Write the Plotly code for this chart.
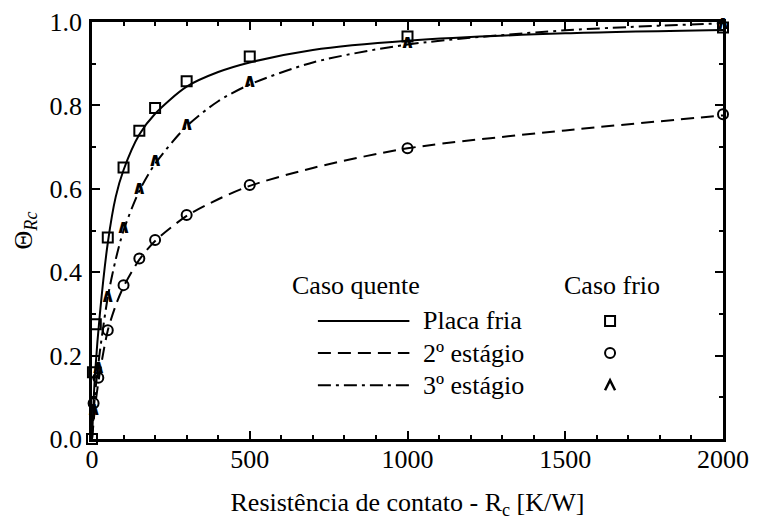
import plotly.graph_objects as go

# Model curves ("Caso quente"): contact resistance [K/W] vs. normalised temperature
rc_curve = [0, 5, 10, 25, 50, 75, 100, 150, 200, 300, 400, 500, 700, 1000, 1500, 2000]
placa_fria_curve = [0, 0.09, 0.16, 0.30, 0.47, 0.58, 0.645, 0.73, 0.78, 0.845, 0.88, 0.903, 0.933, 0.955, 0.973, 0.981]
estagio2_curve = [0, 0.04, 0.08, 0.16, 0.26, 0.32, 0.365, 0.43, 0.475, 0.535, 0.575, 0.607, 0.65, 0.697, 0.74, 0.776]
estagio3_curve = [0, 0.06, 0.11, 0.21, 0.34, 0.43, 0.50, 0.595, 0.66, 0.75, 0.81, 0.85, 0.903, 0.946, 0.98, 0.997]

# Measured points ("Caso frio")
rc_placa = [0, 3, 12, 50, 100, 150, 200, 300, 500, 1000, 2000]
placa_fria_pts = [0, 0.16, 0.275, 0.483, 0.651, 0.739, 0.794, 0.858, 0.917, 0.965, 0.987]
rc_est2 = [5, 20, 50, 100, 150, 200, 300, 500, 1000, 2000]
estagio2_pts = [0.086, 0.147, 0.261, 0.369, 0.433, 0.477, 0.537, 0.609, 0.697, 0.779]
rc_est3 = [5, 20, 50, 100, 150, 200, 300, 500, 1000, 2000]
estagio3_pts = [0.07, 0.17, 0.34, 0.505, 0.60, 0.665, 0.753, 0.855, 0.949, 0.995]

x_ticks = [0, 500, 1000, 1500, 2000]
y_ticks = [0.0, 0.2, 0.4, 0.6, 0.8, 1.0]

legend_curves = ["Placa fria", "2º estágio", "3º estágio"]
dash_styles = ["solid", "13px,7px", "13px,5px,3px,5px"]

SERIF = "Liberation Serif"
FS = 26

fig = go.Figure()

curves = [placa_fria_curve, estagio2_curve, estagio3_curve]
for name, ys, dash in zip(legend_curves, curves, dash_styles):
    fig.add_trace(go.Scatter(
        x=rc_curve, y=ys, mode="lines", name=name,
        line=dict(color="black", width=2, dash=dash, shape="spline", smoothing=0.8),
        cliponaxis=False,
    ))

fig.add_trace(go.Scatter(
    x=rc_placa, y=placa_fria_pts, mode="markers",
    marker=dict(symbol="square-open", size=10, color="black", line=dict(width=2, color="black")),
    cliponaxis=False,
))
fig.add_trace(go.Scatter(
    x=rc_est2, y=estagio2_pts, mode="markers",
    marker=dict(symbol="circle-open", size=10, color="black", line=dict(width=2, color="black")),
    cliponaxis=False,
))
fig.add_trace(go.Scatter(
    x=rc_est3, y=estagio3_pts, mode="text", text=["<b>∧</b>"] * len(rc_est3),
    textposition="middle center",
    textfont=dict(family="DejaVu Sans", size=19, color="black"),
    cliponaxis=False,
))

# Legend block, drawn by hand in paper coordinates
row_y = [0.283, 0.206, 0.129]
fig.add_annotation(x=0.418, y=0.367, xref="paper", yref="paper", text="Caso quente",
                   xanchor="center", yanchor="middle",
                   showarrow=False, font=dict(family=SERIF, size=FS, color="black"))
fig.add_annotation(x=0.824, y=0.367, xref="paper", yref="paper", text="Caso frio",
                   xanchor="center", yanchor="middle",
                   showarrow=False, font=dict(family=SERIF, size=FS, color="black"))
for label, dash, yy in zip(legend_curves, dash_styles, row_y):
    fig.add_shape(type="line", xref="paper", yref="paper", x0=0.358, x1=0.503, y0=yy, y1=yy,
                  line=dict(color="black", width=2, dash=dash))
    fig.add_annotation(x=0.522, y=yy, xref="paper", yref="paper", text=label,
                       xanchor="left", yanchor="middle",
                       showarrow=False, font=dict(family=SERIF, size=FS, color="black"))

mx = 0.821
fig.add_shape(type="rect", xref="paper", yref="paper", xsizemode="pixel", ysizemode="pixel",
              xanchor=mx, yanchor=row_y[0], x0=-5, x1=5, y0=-5, y1=5,
              line=dict(color="black", width=2))
fig.add_shape(type="circle", xref="paper", yref="paper", xsizemode="pixel", ysizemode="pixel",
              xanchor=mx, yanchor=row_y[1], x0=-5, x1=5, y0=-5, y1=5,
              line=dict(color="black", width=2))
fig.add_shape(type="path", xref="paper", yref="paper", xsizemode="pixel", ysizemode="pixel",
              xanchor=mx, yanchor=row_y[2], path="M-5,-5 L0,5 L5,-5",
              line=dict(color="black", width=2.5))

axis_common = dict(
    showline=True, linewidth=2.5, linecolor="black", mirror="ticks",
    ticks="inside", tickwidth=2, ticklen=8, tickcolor="black",
    showgrid=False, zeroline=False, automargin=False,
    tickfont=dict(family=SERIF, size=FS, color="black"),
)

fig.update_xaxes(
    range=[0, 2000], tickvals=x_ticks,
    minor=dict(dtick=100, ticks="inside", ticklen=4, tickwidth=1.5, tickcolor="black", showgrid=False),
    title=dict(text="Resistência de contato - R<sub>c</sub> [K/W]",
               font=dict(family=SERIF, size=FS, color="black"), standoff=20),
    ticklabelstandoff=-5,
    **axis_common,
)
fig.update_yaxes(
    range=[0, 1.0], tickvals=y_ticks, tickformat=".1f",
    minor=dict(dtick=0.1, ticks="inside", ticklen=4, tickwidth=1.5, tickcolor="black", showgrid=False),
    title=dict(text="Θ<sub><i>Rc</i></sub>",
               font=dict(family=SERIF, size=FS, color="black"), standoff=10),
    ticklabelstandoff=2,
    **axis_common,
)

fig.update_layout(
    width=757, height=530,
    margin=dict(l=92, r=34, t=22, b=91),
    plot_bgcolor="white", paper_bgcolor="white",
    showlegend=False,
    font=dict(family=SERIF, size=FS, color="black"),
)

fig.write_html("out.html")
